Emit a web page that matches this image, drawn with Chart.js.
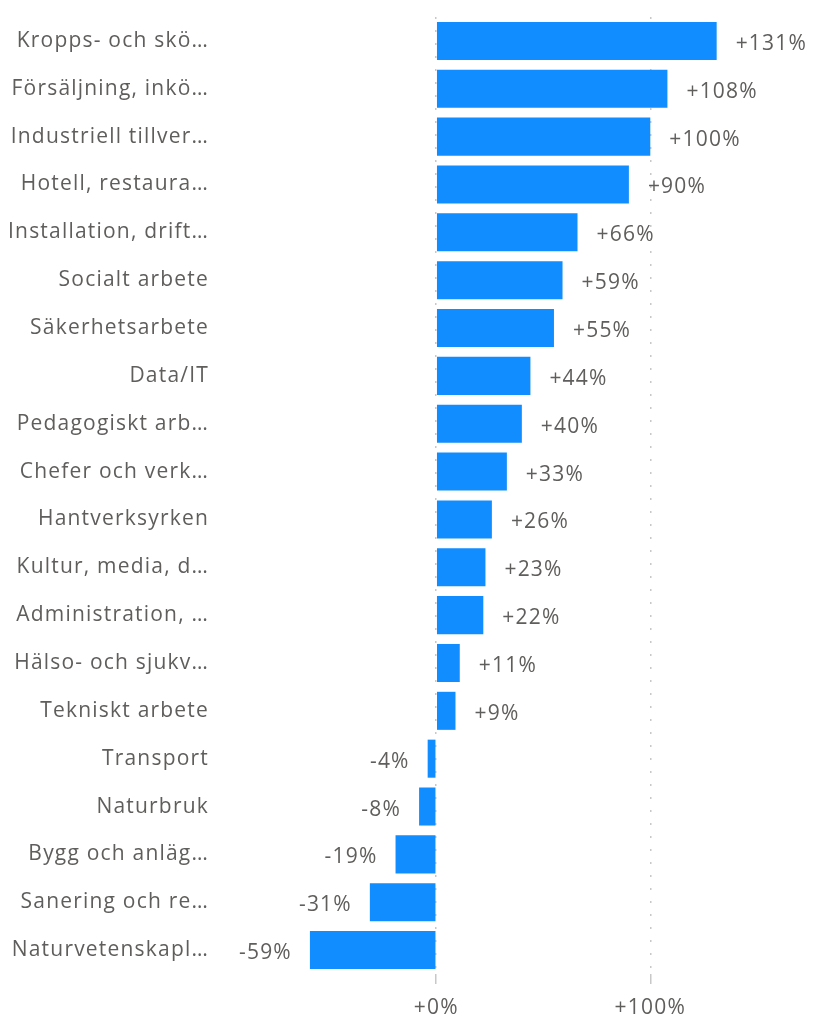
<!DOCTYPE html>
<html>
<head>
<meta charset="utf-8">
<script src="https://cdn.jsdelivr.net/npm/chart.js@4/dist/chart.umd.min.js"></script>
<style>
  html, body { margin: 0; padding: 0; background: #fff; }
  canvas { display: block; }
</style>
</head>
<body>
<canvas id="chart" width="813" height="1020"></canvas>
<script>
// ********* Data *********
const categories = [
  'Kropps- och skö…', 'Försäljning, inkö…', 'Industriell tillver…', 'Hotell, restaura…',
  'Installation, drift…', 'Socialt arbete', 'Säkerhetsarbete', 'Data/IT',
  'Pedagogiskt arb…', 'Chefer och verk…', 'Hantverksyrken', 'Kultur, media, d…',
  'Administration, …', 'Hälso- och sjukv…', 'Tekniskt arbete', 'Transport',
  'Naturbruk', 'Bygg och anläg…', 'Sanering och re…', 'Naturvetenskapl…'
];
const changes = [131, 108, 100, 90, 66, 59, 55, 44, 40, 33, 26, 23, 22, 11, 9, -4, -8, -19, -31, -59];
const xTicks = [0, 100];

const textColor = '#605e5c';
const fontFamily = '"Open Sans", "Segoe UI", sans-serif';
const spacing = '1.2px';

const fmt = v => (v >= 0 ? '+' : '') + v + '%';

// a bit of letter spacing so the text is as wide as the original
const textSpacing = {
  id: 'textSpacing',
  beforeLayout(chart) { chart.ctx.letterSpacing = spacing; },
  beforeDraw(chart) { chart.ctx.letterSpacing = spacing; }
};

// ********* Value labels next to the bars *********
const barLabels = {
  id: 'barLabels',
  afterDatasetsDraw(chart) {
    const ctx = chart.ctx;
    const meta = chart.getDatasetMeta(0);
    ctx.save();
    ctx.letterSpacing = spacing;
    ctx.font = '21px ' + fontFamily;
    ctx.fillStyle = textColor;
    ctx.textBaseline = 'middle';
    meta.data.forEach((bar, i) => {
      const v = changes[i];
      if (v >= 0) {
        ctx.textAlign = 'left';
        ctx.fillText(fmt(v), bar.x + 19, bar.y + 3);
      } else {
        ctx.textAlign = 'right';
        ctx.fillText(fmt(v), bar.x - 18, bar.y + 3);
      }
    });
    ctx.restore();
  }
};

new Chart(document.getElementById('chart').getContext('2d'), {
  type: 'bar',
  data: {
    labels: categories,
    datasets: [{
      data: changes,
      backgroundColor: '#118dff',
      borderWidth: 0,
      categoryPercentage: 1,
      barPercentage: 0.795
    }]
  },
  options: {
    indexAxis: 'y',
    responsive: false,
    animation: false,
    layout: { padding: { top: 17, right: 0, left: 0, bottom: 0 } },
    plugins: {
      legend: { display: false },
      tooltip: { enabled: false }
    },
    scales: {
      x: {
        min: -101,
        max: 176,
        afterBuildTicks: scale => { scale.ticks = xTicks.map(v => ({ value: v })); },
        afterFit: scale => { scale.height = 46; },
        grid: {
          color: '#c8c8c8',
          lineWidth: 1.5,
          tickLength: 10,
          tickColor: '#c8c8c8'
        },
        border: { display: false, dash: [2, 11] },
        ticks: {
          padding: 11,
          color: textColor,
          font: { size: 21, family: fontFamily },
          callback: v => fmt(v)
        }
      },
      y: {
        afterFit: scale => {
          scale.width = 220;
          scale.paddingTop = 0;
          scale.paddingBottom = 0;
        },
        grid: { display: false, drawTicks: false },
        border: { display: false },
        ticks: {
          padding: 11,
          color: textColor,
          font: { size: 21, family: fontFamily }
        }
      }
    }
  },
  plugins: [textSpacing, barLabels]
});
</script>
</body>
</html>
